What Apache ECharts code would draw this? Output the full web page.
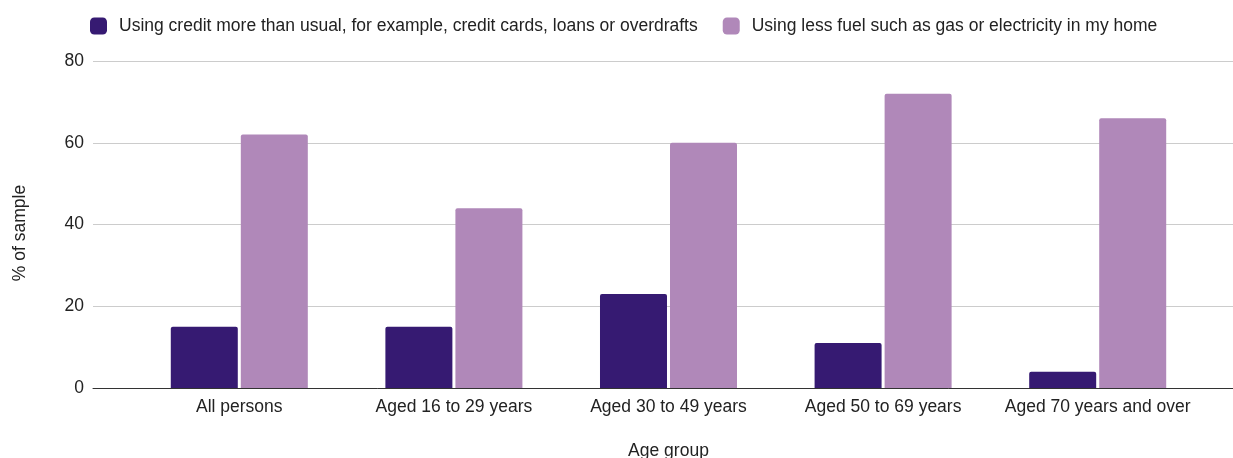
<!DOCTYPE html>
<html>
<head>
<meta charset="utf-8">
<script src="https://cdn.jsdelivr.net/npm/echarts@6/dist/echarts.min.js"></script>
<style>html,body{margin:0;padding:0;background:#fff}#c{width:1233px;height:458px}</style>
</head>
<body>
<div id="c"></div>
<script>
const categories = ["All persons", "Aged 16 to 29 years", "Aged 30 to 49 years", "Aged 50 to 69 years", "Aged 70 years and over"];
const seriesNames = ["Using credit more than usual, for example, credit cards, loans or overdrafts", "Using less fuel such as gas or electricity in my home"];
const creditValues = [15, 15, 23, 11, 4];
const fuelValues = [62, 44, 60, 72, 66];
const yTicks = { min: 0, max: 80, interval: 20 };

const font = "'Liberation Sans', Arial, sans-serif";
const fs = 17.5;
const chart = echarts.init(document.getElementById('c'), null, { renderer: 'canvas' });
chart.setOption({
  animation: false,
  textStyle: { fontFamily: font, color: '#222' },
  legend: {
    left: 90, top: 17, padding: 0,
    itemWidth: 17, itemHeight: 17, itemGap: 25,
    icon: 'roundRect',
    textStyle: { fontSize: fs, color: '#222', fontFamily: font, padding: [0, 0, 0, 7] },
    data: seriesNames
  },
  grid: [
    { left: 93, right: 0, top: 61, bottom: 70, containLabel: false, outerBoundsMode: 'none' },
    { left: 132, right: 28, top: 61, bottom: 70, containLabel: false, outerBoundsMode: 'none' }
  ],
  xAxis: [
    { gridIndex: 0, type: 'value', min: 0, max: 1,
      axisLine: { show: true, lineStyle: { color: '#333', width: 1 } },
      axisTick: { show: false }, axisLabel: { show: false }, splitLine: { show: false } },
    { gridIndex: 1, type: 'category', data: categories,
      axisLine: { show: false }, axisTick: { show: false },
      axisLabel: { fontSize: fs, color: '#222', margin: 10, interval: 0, fontFamily: font },
      name: 'Age group', nameLocation: 'middle', nameGap: 54,
      nameTextStyle: { fontSize: fs, color: '#222', fontFamily: font } }
  ],
  yAxis: [
    { gridIndex: 0, type: 'value', min: yTicks.min, max: yTicks.max, interval: yTicks.interval,
      axisLine: { show: false }, axisTick: { show: false },
      axisLabel: { fontSize: fs, color: '#222', margin: 9, fontFamily: font },
      splitLine: { lineStyle: { color: '#cccccc', width: 1 } },
      name: '% of sample', nameLocation: 'middle', nameGap: 64, nameRotate: 90,
      nameTextStyle: { fontSize: fs, color: '#222', fontFamily: font, padding: [0, 17, 0, 0] } },
    { gridIndex: 1, type: 'value', min: yTicks.min, max: yTicks.max, interval: yTicks.interval, show: false,
      splitLine: { show: false } }
  ],
  series: [
    { name: seriesNames[0], type: 'bar', xAxisIndex: 1, yAxisIndex: 1, data: creditValues,
      barWidth: 67, barGap: '4.5%',
      itemStyle: { color: '#361a72', borderRadius: [2, 2, 0, 0] } },
    { name: seriesNames[1], type: 'bar', xAxisIndex: 1, yAxisIndex: 1, data: fuelValues,
      barWidth: 67, barGap: '4.5%',
      itemStyle: { color: '#b088b9', borderRadius: [2, 2, 0, 0] } }
  ]
});
</script>
</body>
</html>
